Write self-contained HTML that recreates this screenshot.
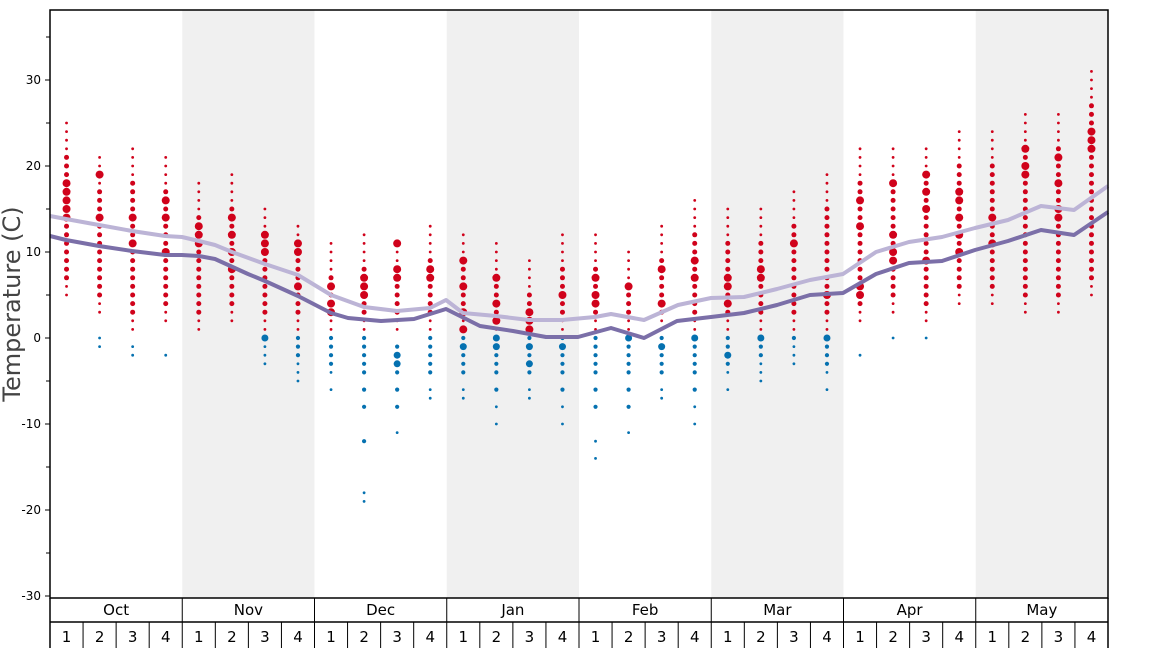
<!DOCTYPE html>
<html><head><meta charset="utf-8"><style>
html,body{margin:0;padding:0;background:#fff;}
svg{display:block;font-family:"DejaVu Sans","Liberation Sans",sans-serif;}
</style></head><body>
<svg id="c" width="1168" height="648" xmlns="http://www.w3.org/2000/svg">
<g id="bg"></g>
<g id="dots"></g>
<g id="lines"></g>
<g id="axes"></g>
<text x="0" y="0" transform="translate(20,304) rotate(-90)" text-anchor="middle" font-size="24" fill="#444">Temperature (C)</text>
</svg>
<script>
const NS="http://www.w3.org/2000/svg";
function el(p,t,a,txt){const e=document.createElementNS(NS,t);for(const k in a)e.setAttribute(k,a[k]);if(txt!==undefined)e.textContent=txt;document.getElementById(p).appendChild(e);return e;}
const X0=50,X1=1108,Y0=10,Y1=598;
const mw=(X1-X0)/8, ww=mw/4;
const y=t=>338-t*8.6;
const months=["Oct","Nov","Dec","Jan","Feb","Mar","Apr","May"];
for(let m=0;m<8;m++){if(m%2==1)el("bg","rect",{x:X0+m*mw,y:Y0,width:mw,height:Y1-Y0,fill:"#f0f0f0"});}
const D=[
[5,25,[14,15,16,17,18],1,0,[]],[3,21,[19,14],-1,0,[]],[1,22,[14,11],-2,-1,[]],[2,21,[10,14,16],-2,-2,[]],
[1,18,[13,11,12],1,0,[]],[2,19,[8,10,14,12],1,0,[]],[1,15,[10,11,12],-3,0,[0]],[1,13,[11,10,6],-5,0,[]],
[1,11,[6,3,4],-6,0,[]],[1,12,[5,7,6],-19,0,[-5]],[1,11,[8,11,7],-11,-1,[-2,-3]],[1,13,[8,7],-7,0,[]],
[1,12,[9,6,3,1],-7,0,[-1]],[1,11,[7,4,2],-10,0,[-1,0]],[1,9,[3,2,1],-7,0,[-1,-3]],[1,12,[5],-10,0,[-1]],
[1,12,[7,5,4],-14,0,[]],[1,10,[6],-11,0,[0]],[1,13,[8,4],-7,0,[-1]],[1,16,[9,7],-10,0,[0]],
[1,15,[6,4,7],-6,0,[-2]],[1,15,[8,7],-5,0,[0]],[1,17,[11],-3,0,[]],[1,19,[5],-6,0,[0]],
[2,22,[16,13,5,6],-2,-2,[]],[3,22,[18,10,12,9],0,0,[]],[2,22,[19,17,9,15],0,0,[]],[4,24,[17,16,14,10,12]],
[4,24,[14,11]],[3,26,[20,19,22]],[3,26,[21,18,15,14]],[5,31,[24,23,22]]];
const RED="#d0021b",BLUE="#0571b0";
for(let i=0;i<32;i++){
 const cx=X0+ww*(i+0.5), d=D[i];
 for(let t=d[0];t<=d[1];t++){const b=d[2].includes(t);const near=(t>d[1]-4||t<d[0]+2);el("dots","circle",{cx,cy:y(t),r:b?4:(near?1.4:2.5),fill:RED});}
 if(d[3]!==undefined&&d[3]<=d[4]){for(let t=d[4];t>=d[3];t--){if(t<-3&&t%2!=0&&t!=d[3])continue;if(d[3]<-8&&t<-8&&t%3!=0&&t!=d[3])continue;const b=d[5].includes(t);el("dots","circle",{cx,cy:y(t),r:b?3.5:(t<d[3]+3?1.4:2.1),fill:BLUE});}}
}
const L=[[50,216],[66,219],[99,225],[132,231],[165,236],[182,237],[199,241],[215,245],[232,252],[265,264],[298,275],[331,295],[364,307],[397,311],[430,308],[446,300],[463,313],[496,316],[529,320],[562,320],[595,317],[611,314],[644,320],[678,305],[711,298],[744,297],[777,289],[810,280],[843,274],[876,252],[909,242],[942,237],[975,228],[1008,220],[1041,206],[1074,210],[1108,186]];
const Dk=[[50,236],[66,240],[99,246],[132,251],[165,255],[182,255],[199,256],[215,259],[248,274],[265,281],[298,296],[331,313],[348,318],[381,321],[414,319],[446,309],[480,326],[513,331],[546,337],[578,337],[611,328],[644,338],[677,321],[711,317],[744,313],[777,305],[810,295],[843,293],[876,274],[909,263],[942,261],[975,250],[1008,241],[1041,230],[1074,235],[1108,212]];
el("lines","polyline",{points:L.map(p=>p.join(",")).join(" "),fill:"none",stroke:"#bcb4d6",'stroke-width':4,'stroke-linejoin':"round"});
el("lines","polyline",{points:Dk.map(p=>p.join(",")).join(" "),fill:"none",stroke:"#7b6fa8",'stroke-width':4,'stroke-linejoin':"round"});
el("axes","rect",{x:X0,y:Y0,width:X1-X0,height:Y1-Y0,fill:"none",stroke:"#000",'stroke-width':1.5});
for(let t=-30;t<=38;t+=5){const yy=y(t);if(yy<Y0)continue;const maj=t%10==0;el("axes","line",{x1:X0-(maj?5:4),x2:X0,y1:yy,y2:yy,stroke:"#000"});if(maj)el("axes","text",{x:X0-9,y:yy+4,'text-anchor':"end",'font-size':12},t);}
el("axes","line",{x1:X0,x2:X0,y1:Y1,y2:648,stroke:"#000",'stroke-width':1.5});
el("axes","line",{x1:X0,x2:X1,y1:622,y2:622,stroke:"#000",'stroke-width':1.5});
el("axes","line",{x1:X1,x2:X1,y1:Y1,y2:648,stroke:"#000",'stroke-width':1.5});
for(let m=0;m<8;m++){const x=X0+m*mw;el("axes","line",{x1:x,x2:x,y1:Y1,y2:648,stroke:"#000"});el("axes","text",{x:x+mw/2,y:615,'text-anchor':"middle",'font-size':15},months[m]);
 for(let w=0;w<4;w++){const xx=x+w*ww;if(w>0)el("axes","line",{x1:xx,x2:xx,y1:622,y2:648,stroke:"#000"});el("axes","text",{x:xx+ww/2,y:642,'text-anchor':"middle",'font-size':15},w+1);}}
</script>
</body></html>
